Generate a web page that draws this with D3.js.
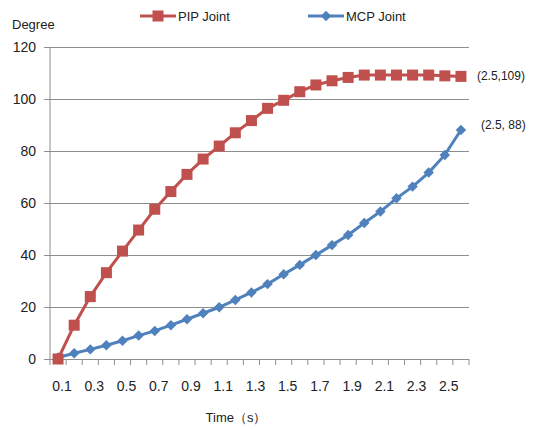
<!DOCTYPE html>
<html>
<head>
<meta charset="utf-8">
<script src="https://cdn.jsdelivr.net/npm/d3@7"></script>
<style>
  body { margin: 0; background: #fff; }
  text { font-family: "Liberation Sans", Arial, sans-serif; fill: #222; }
</style>
</head>
<body>
<svg id="chart" width="535" height="430"></svg>
<script>
// 26 sample points, labelled every other one on the axis
const steps = d3.range(26);
const tickLabels = ["0.1", "0.3", "0.5", "0.7", "0.9", "1.1", "1.3", "1.5", "1.7", "1.9", "2.1", "2.3", "2.5"];
const pipValues = [0, 13, 24, 33.2, 41.5, 49.6, 57.6, 64.4, 71, 76.9, 81.9, 87, 91.7, 96.4, 99.5,
                   102.8, 105.4, 107, 108.3, 109.2, 109.2, 109.2, 109.2, 109.2, 108.9, 108.7];
const mcpValues = [0.6, 2.2, 3.7, 5.3, 7, 9, 10.8, 13, 15.3, 17.6, 19.9, 22.7, 25.6, 28.8, 32.6,
                   36.2, 40, 43.8, 47.7, 52.3, 56.7, 61.8, 66.3, 71.7, 78.5, 88.1];
const yTicks = [0, 20, 40, 60, 80, 100, 120];
const seriesNames = ["PIP Joint", "MCP Joint"];
const endLabels = ["(2.5,109)", "(2.5, 88)"];

function drawChart() {
    const svg = d3.select("#chart");
    svg.selectAll("*").remove();

    const margin = { top: 47, left: 50 };
    const plotWidth = 419;
    const plotHeight = 312;
    const red = "#C0504D";
    const blue = "#4F81BD";
    const gridColor = "#8e8e8e";

    const x = d3.scaleBand().domain(steps).range([0, plotWidth]);
    const y = d3.scaleLinear().domain([0, 120]).range([plotHeight, 0]);
    const cx = i => x(i) + x.bandwidth() / 2;

    const chart = svg.append("g")
        .attr("transform", `translate(${margin.left},${margin.top})`);

    // Horizontal gridlines + y labels
    const yAxis = chart.append("g")
        .call(d3.axisLeft(y).tickValues(yTicks).tickSize(-plotWidth - 6).tickSizeOuter(0).tickPadding(8))
        .attr("transform", "translate(-6,0)");
    yAxis.select(".domain").remove();
    yAxis.selectAll(".tick line").attr("stroke", gridColor).attr("x2", plotWidth + 6);
    yAxis.selectAll(".tick text").attr("font-size", "14px").attr("fill", "#222")
        .attr("font-family", "Liberation Sans, Arial, sans-serif");

    // Vertical axis line
    chart.append("line")
        .attr("x1", 0).attr("x2", 0)
        .attr("y1", 0).attr("y2", plotHeight)
        .attr("stroke", gridColor);

    // Bottom axis ticks at band boundaries
    chart.selectAll(".xtick")
        .data(d3.range(steps.length + 1))
        .enter().append("line")
        .attr("class", "xtick")
        .attr("x1", d => d * x.step())
        .attr("x2", d => d * x.step())
        .attr("y1", plotHeight)
        .attr("y2", plotHeight + 6)
        .attr("stroke", gridColor);

    chart.selectAll(".xlabel")
        .data(tickLabels)
        .enter().append("text")
        .attr("class", "xlabel")
        .attr("x", (d, i) => cx(i * 2) + 4)
        .attr("y", plotHeight + 32)
        .attr("text-anchor", "middle")
        .attr("font-size", "14px")
        .text(d => d);

    const line = d3.line()
        .x((d, i) => cx(i))
        .y(d => y(d));

    const diamond = d3.symbol().type(d3.symbolDiamond2).size(70);

    // MCP series: blue diamonds (drawn first, PIP sits on top)
    chart.append("path")
        .datum(mcpValues)
        .attr("fill", "none")
        .attr("stroke", blue)
        .attr("stroke-width", 3)
        .attr("d", line);

    chart.selectAll(".mcp")
        .data(mcpValues)
        .enter().append("path")
        .attr("class", "mcp")
        .attr("transform", (d, i) => `translate(${cx(i)},${y(d)})`)
        .attr("d", diamond)
        .attr("fill", blue);

    // PIP series: red squares
    chart.append("path")
        .datum(pipValues)
        .attr("fill", "none")
        .attr("stroke", red)
        .attr("stroke-width", 3)
        .attr("d", line);

    chart.selectAll(".pip")
        .data(pipValues)
        .enter().append("rect")
        .attr("class", "pip")
        .attr("x", (d, i) => cx(i) - 5.5)
        .attr("y", d => y(d) - 5.5)
        .attr("width", 11)
        .attr("height", 11)
        .attr("fill", red);

    // End labels
    const last = steps.length - 1;
    chart.append("text")
        .attr("x", cx(last) + 16)
        .attr("y", y(pipValues[last]) + 4)
        .attr("font-size", "12px")
        .attr("fill", "#333")
        .text(endLabels[0]);
    chart.append("text")
        .attr("x", cx(last) + 20)
        .attr("y", y(mcpValues[last]) - 1)
        .attr("font-size", "12px")
        .attr("fill", "#333")
        .text(endLabels[1]);

    // Axis titles
    svg.append("text")
        .attr("x", 12).attr("y", 29)
        .attr("font-size", "13px")
        .text("Degree");
    svg.append("text")
        .attr("x", 236).attr("y", 422)
        .attr("text-anchor", "middle")
        .attr("font-size", "13px")
        .text("Time（s）");

    // Legend
    const legend = svg.append("g").attr("transform", "translate(140,16)");
    const items = [
        { name: seriesNames[0], color: red, dx: 0, marker: "square" },
        { name: seriesNames[1], color: blue, dx: 168, marker: "diamond" }
    ];
    items.forEach(it => {
        const g = legend.append("g").attr("transform", `translate(${it.dx},0)`);
        g.append("line")
            .attr("x1", 0).attr("x2", 36)
            .attr("y1", 0).attr("y2", 0)
            .attr("stroke", it.color)
            .attr("stroke-width", 3);
        if (it.marker === "square") {
            g.append("rect")
                .attr("x", 12.5).attr("y", -5.5)
                .attr("width", 11).attr("height", 11)
                .attr("fill", it.color);
        } else {
            g.append("path")
                .attr("transform", "translate(18,0)")
                .attr("d", diamond)
                .attr("fill", it.color);
        }
        g.append("text")
            .attr("x", 38).attr("y", 5)
            .attr("font-size", "13px")
            .text(it.name);
    });
}

drawChart();
</script>
</body>
</html>
